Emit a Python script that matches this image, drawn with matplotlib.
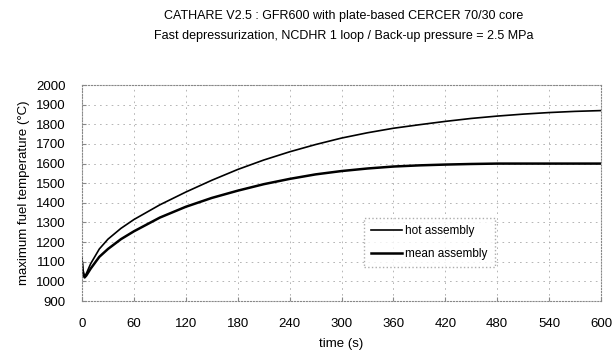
import matplotlib
matplotlib.use("Agg")
import matplotlib.pyplot as plt
import numpy as np

plt.rcParams["font.family"] = ["Liberation Sans", "DejaVu Sans"]

# values
time_s   = [0, 1, 3, 5, 10, 20, 30, 45, 60, 90, 120, 150, 180, 210, 240, 270,
            300, 330, 360, 390, 420, 450, 480, 510, 540, 570, 600]
hot_temp = [1120, 1060, 1025, 1040, 1090, 1165, 1215, 1270, 1315, 1390, 1455,
            1515, 1570, 1618, 1660, 1697, 1730, 1757, 1780, 1798, 1815, 1830,
            1842, 1852, 1860, 1866, 1870]
mean_temp = [1090, 1040, 1020, 1030, 1065, 1125, 1165, 1215, 1255, 1325, 1380,
             1425, 1462, 1495, 1522, 1545, 1562, 1575, 1585, 1591, 1595, 1598,
             1600, 1600, 1600, 1600, 1600]
x_ticks = [0, 60, 120, 180, 240, 300, 360, 420, 480, 540, 600]
y_ticks = list(range(900, 2001, 100))

fig = plt.figure(figsize=(6.13, 3.62), dpi=100)
ax = fig.add_axes([0.1338, 0.1685, 0.8466, 0.5965])

ax.plot(time_s, hot_temp, color="black", lw=1.2, label="hot assembly")
ax.plot(time_s, mean_temp, color="black", lw=1.8, label="mean assembly")

ax.set_xlim(0, 600)
ax.set_ylim(900, 2000)
ax.set_xticks(x_ticks)
ax.set_yticks(y_ticks)
ax.grid(True, color="#aaaaaa", lw=0.6, ls=(0, (2, 5)))
for s in ax.spines.values():
    s.set_color("#888888")
    s.set_linestyle(":")
    s.set_linewidth(0.8)
ax.tick_params(length=3, color="#888888", labelsize=9.5, pad=12, direction="in")
ax.set_xlabel("time (s)", fontsize=9.5, labelpad=6)
ax.set_ylabel("maximum fuel temperature (°C)", fontsize=9.5, labelpad=4)

leg = ax.legend(loc="upper left", bbox_to_anchor=(0.532, 0.41), fontsize=8.5,
                frameon=True, fancybox=False, handlelength=2.6,
                borderpad=0.6, labelspacing=0.9, handletextpad=0.3)
leg.get_frame().set_edgecolor("#999999")
leg.get_frame().set_linestyle(":")

fig.text(0.56, 0.955, "CATHARE V2.5 : GFR600 with plate-based CERCER 70/30 core",
         ha="center", va="center", fontsize=9)
fig.text(0.56, 0.9, "Fast depressurization, NCDHR 1 loop / Back-up pressure = 2.5 MPa",
         ha="center", va="center", fontsize=9)

fig.savefig("out.png", dpi=100)
